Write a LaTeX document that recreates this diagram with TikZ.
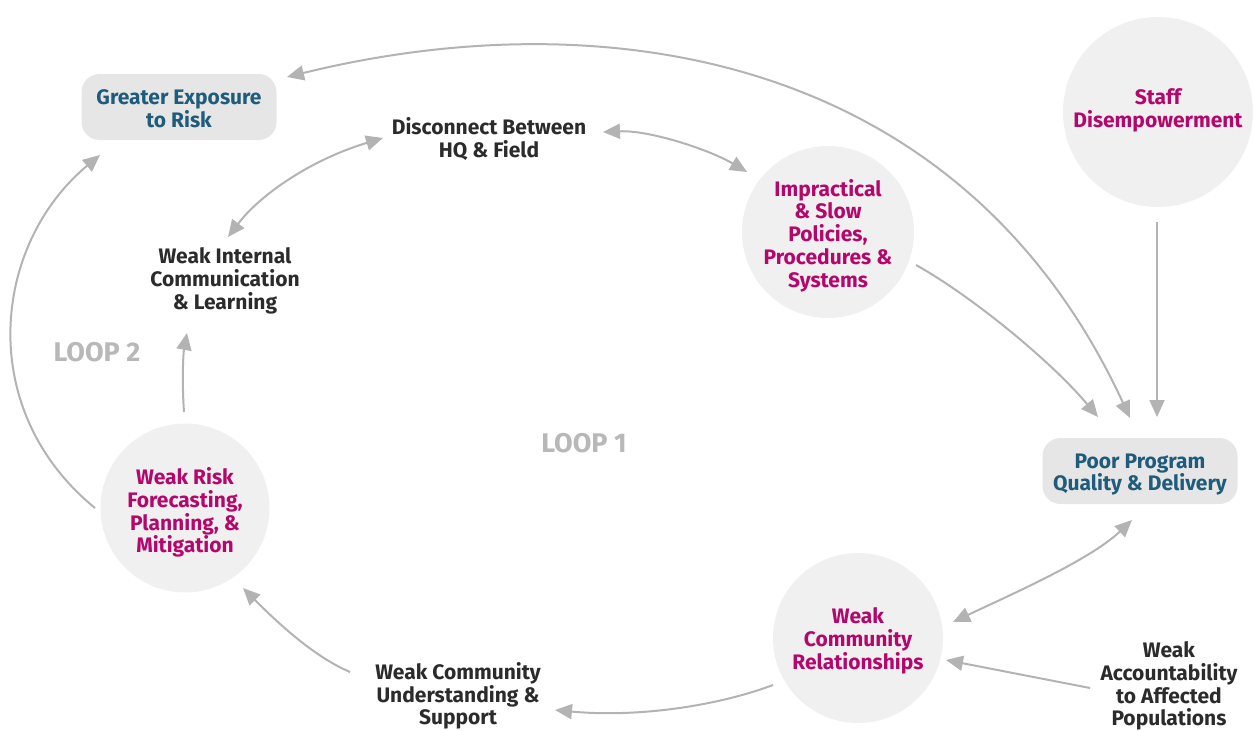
\documentclass[tikz,border=0pt]{standalone}
\usepackage{fontspec}
\setmainfont{Fira Sans}
\usetikzlibrary{arrows.meta,calc}
\definecolor{agray}{HTML}{B3B3B3}
\definecolor{cfill}{HTML}{F0F0F0}
\definecolor{bfill}{HTML}{E6E6E6}
\definecolor{mag}{HTML}{B5076B}
\definecolor{navy}{HTML}{1F5B7A}
\definecolor{dark}{HTML}{2B2B2B}
\definecolor{loopc}{HTML}{B8B8B8}
\begin{document}
\begin{tikzpicture}[x=1pt,y=-1pt,
  txt/.style={font=\bfseries\fontsize{21}{22.8}\selectfont, align=center, inner sep=0pt},
  circ/.style={circle, fill=cfill, inner sep=0pt},
  ctxt/.style={txt, text=mag},
  boxn/.style={rounded corners=18pt, fill=bfill, inner sep=0pt, minimum width=195pt, minimum height=66pt},
  btxt/.style={txt, text=navy},
  plain/.style={txt, text=dark},
  loopl/.style={font=\bfseries\fontsize{27}{30}\selectfont, inner sep=0pt, text=loopc},
  arr/.style={draw=agray, line width=2pt, -{Triangle[length=17pt,width=15pt]}},
  darr/.style={draw=agray, line width=2pt, {Triangle[length=17pt,width=15pt]}-{Triangle[length=17pt,width=15pt]}}]
\useasboundingbox (0,0) rectangle (1254,731);
\node[boxn, label={[btxt, yshift=-2pt]center:{Greater Exposure\\to Risk}}] (ge) at (179,107) {};
\node[boxn, label={[btxt, yshift=-3.5pt]center:{Poor Program\\Quality \& Delivery}}] (pp) at (1140,471) {};
\node[plain] (dc) at (489,139) {Disconnect Between\\HQ \& Field};
\node[circ, minimum size=172pt, label={[ctxt, yshift=-3.5pt]center:{Impractical\\\& Slow\\Policies,\\Procedures \&\\Systems}}] (ip) at (828,232) {};
\node[circ, minimum size=190pt, label={[ctxt, yshift=2pt]center:{Staff\\Disempowerment}}] (sd) at (1158,112) {};
\node[circ, minimum size=170pt, label={[ctxt, yshift=-3pt]center:{Weak\\Community\\Relationships}}] (wcr) at (858,638) {};
\node[circ, minimum size=169pt, label={[ctxt, yshift=-4.5pt]center:{Weak Risk\\Forecasting,\\Planning, \&\\Mitigation}}] (wr) at (185,508) {};
\node[plain] (wi) at (225,281) {Weak Internal\\Communication\\\& Learning};
\node[plain] (wcu) at (458,696) {Weak Community\\Understanding \&\\Support};
\node[plain] (wa) at (1169,686) {Weak\\Accountability\\to Affected\\Populations};
\node[loopl] (l2) at (97,352) {LOOP 2};
\node[loopl] (l1) at (584,443) {LOOP 1};

\draw[darr] ($(ge.center)+(108,-30)$) .. controls (600,0) and (960,50) .. ($(pp.center)+(-10,-53)$);
\draw[arr] ($(ip.center)+(88,33)$) .. controls (970,295) and (1050,360) .. ($(pp.center)+(-42,-54)$);
\draw[arr] ($(sd.center)+(-1,110)$) -- ($(pp.center)+(17,-54)$);
\draw[darr] ($(pp.center)+(-8,49)$) .. controls (1090,560) and (1010,595) .. ($(wcr.center)+(95,-16)$);
\draw[arr] ($(wa.center)+(-79,2)$) -- ($(wcr.center)+(88,22)$);
\draw[arr] ($(wcr.center)+(-85,47)$) .. controls (720,705) and (640,718) .. ($(wcu.center)+(97,14)$);
\draw[arr] ($(wcu.center)+(-108,-24)$) .. controls (310,655) and (270,615) .. ($(wr.center)+(58,80)$);
\draw[arr] ($(wr.center)+(-1,-96)$) .. controls (182,385) and (183,355) .. ($(wi.center)+(-38,52)$);
\draw[darr] ($(wi.center)+(3,-44)$) .. controls (260,195) and (310,160) .. ($(dc.center)+(-106,-1)$);
\draw[darr] ($(dc.center)+(114,-7)$) .. controls (650,130) and (710,150) .. ($(ip.center)+(-81,-60)$);
\draw[arr] ($(wr.center)+(-90,0)$) .. controls (-25,410) and (-8,245) .. ($(ge.center)+(-79,48)$);
\end{tikzpicture}
\end{document}
